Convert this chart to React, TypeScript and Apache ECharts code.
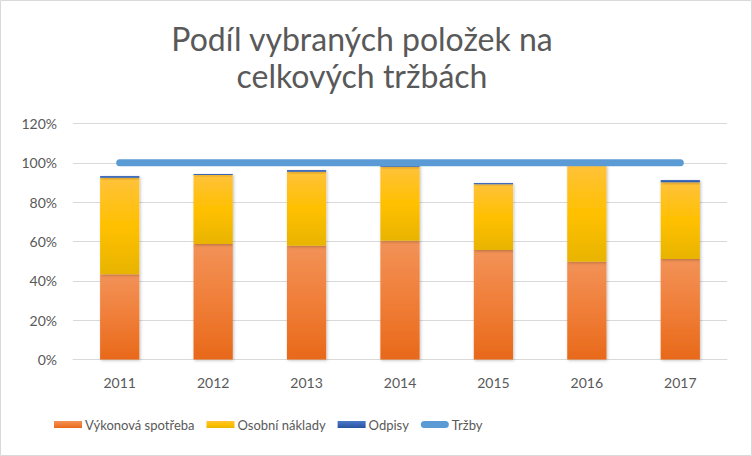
import React, { useEffect, useRef } from "react";
import * as echarts from "echarts";

const categories = ["2011", "2012", "2013", "2014", "2015", "2016", "2017"];
const vykonovaSpotreba = [43.3, 58.7, 57.9, 60.4, 55.7, 49.7, 51.1];
const osobniNaklady = [49.1, 35.1, 37.6, 37.6, 33.4, 49.2, 39.0];
const odpisy = [0.9, 0.5, 0.8, 0.9, 0.6, 0.2, 1.2];
const trzby = [100, 100, 100, 100, 100, 100, 100];

const FONT = "Lato, 'Noto Sans', sans-serif";

function grad(top: string, mid: string, bottom: string) {
  return new echarts.graphic.LinearGradient(0, 0, 0, 1, [
    { offset: 0, color: top },
    { offset: 0.5, color: mid },
    { offset: 1, color: bottom },
  ]);
}

export default function App() {
  const ref = useRef<HTMLDivElement>(null);
  useEffect(() => {
    document.body.style.margin = "0";
    const chart = echarts.init(ref.current!, undefined, { renderer: "svg" });
    const barShadow = { shadowBlur: 3, shadowColor: "rgba(0,0,0,0.25)", shadowOffsetX: 1, shadowOffsetY: 1 };
    chart.setOption({
      animation: false,
      backgroundColor: "#ffffff",
      graphic: [
        {
          type: "rect",
          shape: { x: 0.5, y: 0.5, width: 751, height: 455 },
          style: { fill: "none", stroke: "#d9d9d9", lineWidth: 1 },
          silent: true,
        },
        {
          type: "text",
          silent: true,
          style: {
            text: "Podíl vybraných položek na\ncelkových tržbách",
            x: 362,
            y: 20,
            textAlign: "center",
            textVerticalAlign: "top",
            fontFamily: FONT,
            fontSize: 32,
            fontWeight: 400,
            fill: "#595959",
            lineHeight: 37,
          },
        },
      ],
      grid: { left: 73, right: 25, top: 123.5, bottom: 96.5 },
      legend: {
        top: 413,
        left: 49,
        itemWidth: 28,
        itemHeight: 7,
        itemGap: 12,
        textStyle: { fontFamily: FONT, fontSize: 13, color: "#595959", padding: [0, 0, 0, -2] },
        data: [
          { name: "Výkonová spotřeba", icon: "rect" },
          { name: "Osobní náklady", icon: "rect" },
          { name: "Odpisy", icon: "rect" },
          {
            name: "Tržby",
            icon: "path://M3.5,0 L24.5,0 A3.5,3.5 0 0 1 24.5,7 L3.5,7 A3.5,3.5 0 0 1 3.5,0 Z",
            itemStyle: { color: "#5B9BD5" },
          },
        ],
      },
      xAxis: {
        type: "category",
        data: categories,
        axisLine: { lineStyle: { color: "#d9d9d9" } },
        axisTick: { show: false },
        axisLabel: { fontFamily: FONT, fontSize: 14, color: "#595959", margin: 16 },
      },
      yAxis: {
        type: "value",
        min: 0,
        max: 120,
        interval: 20,
        axisLine: { show: false },
        axisTick: { show: false },
        splitLine: { lineStyle: { color: "#d9d9d9" } },
        axisLabel: { fontFamily: FONT, fontSize: 14, color: "#595959", margin: 16, formatter: "{value}%" },
      },
      series: [
        {
          name: "Výkonová spotřeba",
          type: "bar",
          stack: "a",
          barWidth: "42%",
          data: vykonovaSpotreba,
          itemStyle: { color: grad("#F29258", "#F07E38", "#E8691A"), ...barShadow },
        },
        {
          name: "Osobní náklady",
          type: "bar",
          stack: "a",
          data: osobniNaklady,
          itemStyle: { color: grad("#FFC23A", "#FFC000", "#E8B400"), ...barShadow },
        },
        {
          name: "Odpisy",
          type: "bar",
          stack: "a",
          data: odpisy,
          itemStyle: { color: grad("#4A78C8", "#3A65B5", "#2A529E"), ...barShadow },
        },
        {
          name: "Tržby",
          type: "line",
          data: trzby,
          symbol: "none",
          z: 5,
          itemStyle: { color: "#5B9BD5" },
          lineStyle: {
            width: 7,
            color: "#5B9BD5",
            cap: "round",
          },
        },
      ],
    });
    return () => chart.dispose();
  }, []);
  return <div ref={ref} style={{ width: 752, height: 456 }} />;
}
